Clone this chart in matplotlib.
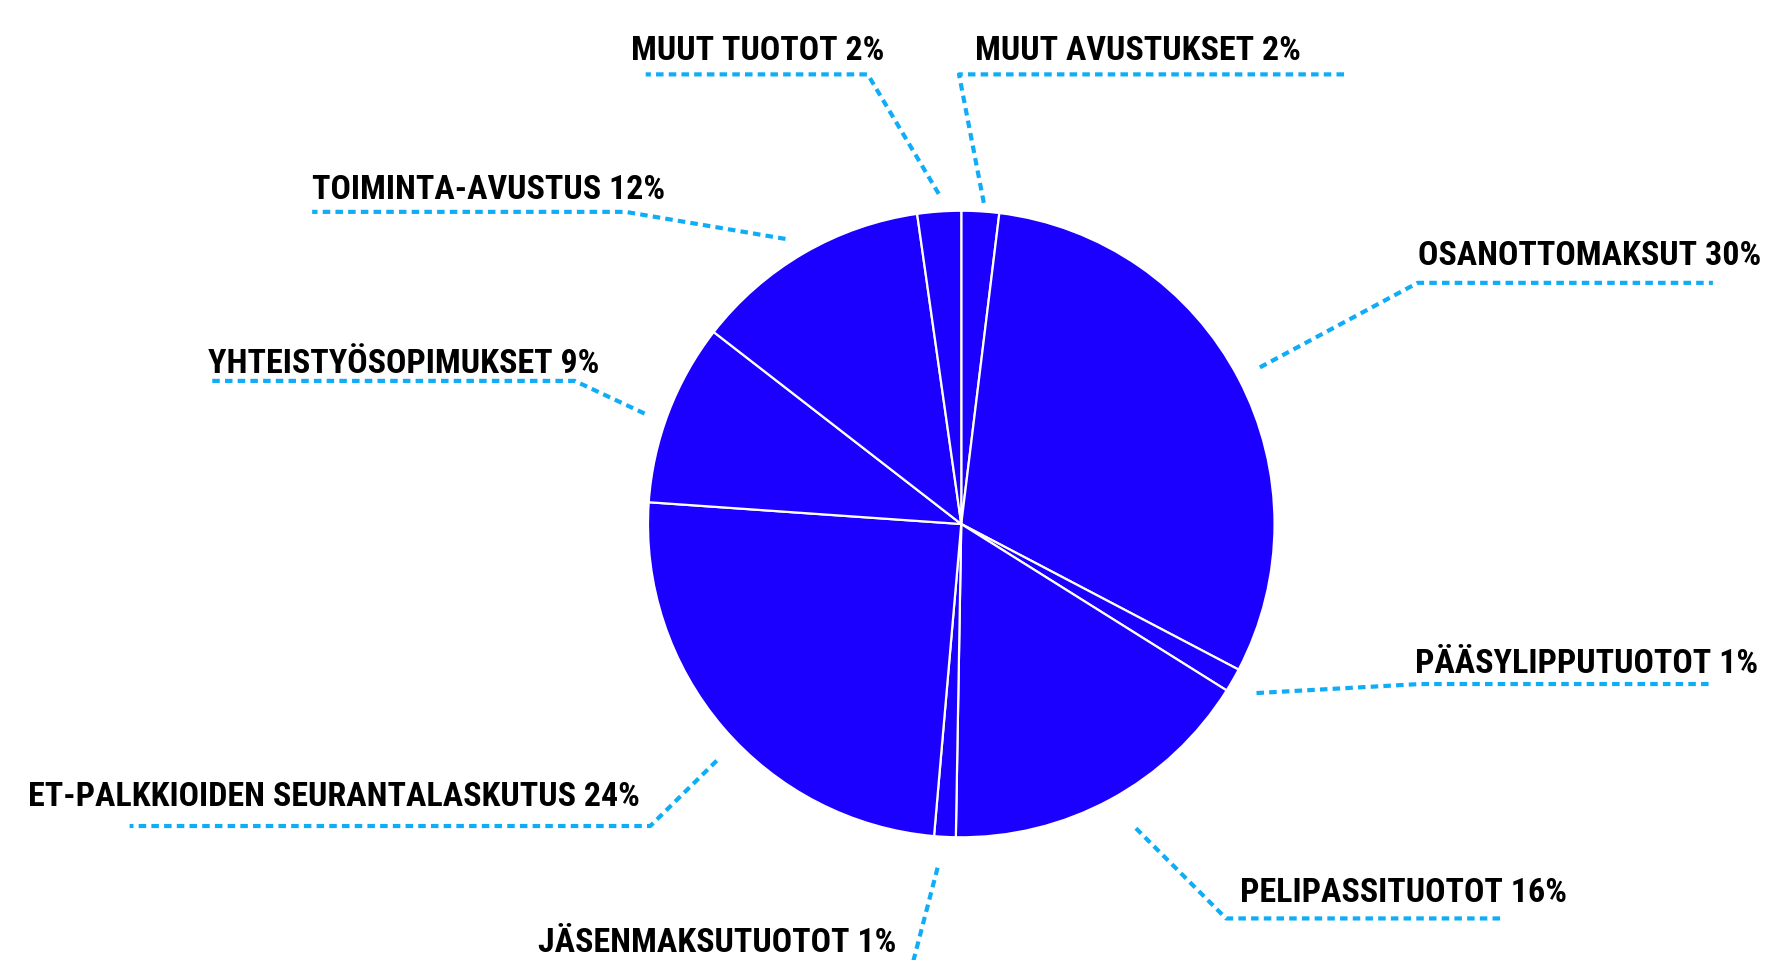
import matplotlib
matplotlib.use("Agg")
import matplotlib.pyplot as plt
from matplotlib import font_manager
import numpy as np

# ---------------- data ----------------
categories = ["MUUT AVUSTUKSET", "OSANOTTOMAKSUT", "PÄÄSYLIPPUTUOTOT",
              "PELIPASSITUOTOT", "JÄSENMAKSUTUOTOT",
              "ET-PALKKIOIDEN SEURANTALASKUTUS", "YHTEISTYÖSOPIMUKSET",
              "TOIMINTA-AVUSTUS", "MUUT TUOTOT"]
shares = [1.94, 30.75, 1.22, 16.36, 1.11, 24.72, 9.39, 12.25, 2.25]
shown_pct = [2, 30, 1, 16, 1, 24, 9, 12, 2]

# ---------------- layout (reference pixels, 1568-wide preview) ----------------
W, H = 1767, 960
S = W / 1568.0
PIE_CENTER = (853, 465)
PIE_RADIUS = 278
# label left x, baseline y
label_xy = [(865, 53), (1258, 235), (1256, 597), (1100, 800), (477, 845),
            (25, 715), (185, 331), (277, 177), (560, 53)]
# leader: start, elbow, end x
lead_start = [(873, 180), (1118, 326), (1115, 615), (1008, 735), (832, 770),
              (636, 675), (572, 367), (697, 212), (833, 172)]
lead_elbow = [(851, 66), (1258, 251), (1260, 607), (1088, 815), (806, 870),
              (577, 733), (510, 338), (555, 188), (770, 66)]
lead_end = [1193, 1520, 1520, 1333, 806, 115, 185, 277, 573]

BLUE = "#1b00ff"
DASH = "#0fadf7"


def px(x, y):
    return x * S, H - y * S


def pick_font():
    names = {f.name for f in font_manager.fontManager.ttflist}
    for cand in ["Liberation Sans Narrow", "DejaVu Sans Condensed",
                 "Roboto Condensed", "Open Sans Condensed", "Roboto",
                 "Noto Sans", "Liberation Sans", "DejaVu Sans"]:
        if cand in names:
            return cand
    return "DejaVu Sans"


FONT = pick_font()

fig = plt.figure(figsize=(W / 100, H / 100), dpi=100)
ax = fig.add_axes([0, 0, 1, 1])

cx, cy = px(*PIE_CENTER)
R = PIE_RADIUS * S
wedges, _ = ax.pie(shares, startangle=90, counterclock=False,
                   colors=[BLUE] * len(shares), center=(cx, cy), radius=R,
                   wedgeprops=dict(edgecolor="white", linewidth=1.6))
ax.set_xlim(0, W)
ax.set_ylim(0, H)
ax.set_aspect("auto")
ax.axis("off")

# font size to match reference label width
fig.canvas.draw()
rend = fig.canvas.get_renderer()
longest = categories[5] + " " + str(shown_pct[5]) + "%"
probe = ax.text(0, 0, longest, fontsize=30, family=[FONT, "DejaVu Sans"],
                weight="black")
wid = probe.get_window_extent(rend).width
probe.remove()
fs = 30 * (542 * S) / wid
fs = min(fs, 34)

for i, w in enumerate(wedges):
    sx, sy = px(*lead_start[i])
    ex, ey = px(*lead_elbow[i])
    fx, _ = px(lead_end[i], 0)
    ax.plot([sx, ex, fx], [sy, ey, ey], color=DASH, lw=3.0,
            linestyle=(0, (1.8, 1.25)), solid_capstyle="butt",
            dash_capstyle="butt", zorder=1)
    lx, ly = px(*label_xy[i])
    ax.text(lx, ly, f"{categories[i]} {shown_pct[i]}%", fontsize=fs,
            family=[FONT, "DejaVu Sans"], weight="black", color="black",
            ha="left", va="baseline")

fig.savefig("out.png", dpi=100, facecolor="white")
